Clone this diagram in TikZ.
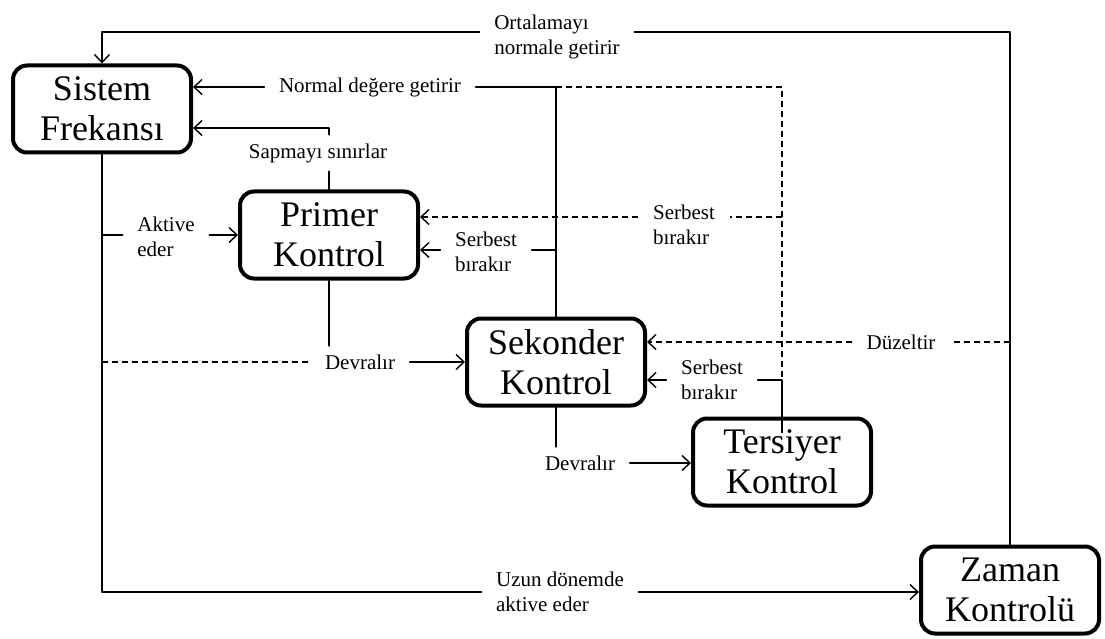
\documentclass[tikz,border=0pt]{standalone}
\usepackage{fontspec}
\setmainfont{Liberation Serif}
\usetikzlibrary{arrows.meta}

\begin{document}
\begin{tikzpicture}[x=1pt, y=-1pt, line cap=round, line join=round, line width=1.4pt,
  >={Straight Barb[length=8pt,width=15pt]},
  ctrlbox/.style={draw, line width=4pt, rounded corners=14pt, minimum width=178pt, minimum height=87pt, align=center, font=\fontsize{36}{40}\selectfont},
  lbl/.style={fill=white, inner xsep=14pt, inner ysep=8pt, align=left, font=\fontsize{21}{25}\selectfont},
  dline/.style={line cap=butt, dash pattern=on 6pt off 4pt}]
\useasboundingbox (0,0) rectangle (1105,639);
\node[ctrlbox] (sis) at (102,109) {Sistem\\Frekansı};
\node[ctrlbox] (pri) at (329,235) {Primer\\Kontrol};
\node[ctrlbox] (sek) at (556,362) {Sekonder\\Kontrol};
\node[ctrlbox] (ter) at (782,462) {Tersiyer\\Kontrol};
\node[ctrlbox] (zam) at (1010,590) {Zaman\\Kontrolü};
\node[lbl] (orta) at (557,37) {Ortalamayı\\normale getirir};
\node[lbl] (norm) at (370,87) {Normal değere getirir};
\node[lbl] (sap) at (318,153) {Sapmayı sınırlar};
\node[lbl] (akt) at (166,237) {Aktive\\eder};
\node[lbl] (dv1) at (360,362) {Devralır};
\node[lbl] (sb3) at (486,252) {Serbest\\bırakır};
\node[lbl] (sb1) at (684,225) {Serbest\\bırakır};
\node[lbl] (sb2) at (712,380) {Serbest\\bırakır};
\node[lbl] (duz) at (901,342) {Düzeltir};
\node[lbl] (dv2) at (580,463) {Devralır};
\node[lbl] (uzun) at (560,592) {Uzun dönemde\\aktive eder};
\coordinate (tl) at (102,32);
\coordinate (jn) at (sek.north |- norm.east);
\coordinate (js) at (ter.north |- sb2.east);
\coordinate (ds) at (782,217);
\coordinate (ss) at (556,250);
\coordinate (sp) at (329,128);
\coordinate (ak) at (102,235);
\draw (zam.north) |- (orta.east |- tl);
\draw[->] (orta.west |- tl) -- (tl) -- (sis.north);
\draw (sek.north) |- (norm.east);
\draw[->] (norm.west) -- (norm.west -| sis.east);
\draw[dline] (jn) -| (js);
\draw ([yshift=-16pt]ter.north) -- (js) -- (sb2.east);
\draw[->] (sb2.west) -- (sb2.west -| sek.east);
\draw[dline] (ds) -- (ds -| sb1.east);
\draw[dline,->] (ds -| sb1.west) -- (ds -| pri.east);
\draw (ss) -- (ss -| sb3.east);
\draw[->] (ss -| sb3.west) -- (ss -| pri.east);
\draw (pri.north) -- (pri.north |- sap.south);
\draw[->] (pri.north |- sap.north) -- (sp) -- (sp -| sis.east);
\draw (sis.south) |- (uzun.west);
\draw[->] (uzun.east) -- (uzun.east -| zam.west);
\draw (ak) -- (ak -| akt.west);
\draw[->] (ak -| akt.east) -- (pri.west);
\draw[dline] (sis.south |- dv1.west) -- (dv1.west);
\draw (pri.south) -- (pri.south |- dv1.north);
\draw[->] (dv1.east) -- (dv1.east -| sek.west);
\draw[dline] (zam.north |- duz.east) -- (duz.east);
\draw[dline,->] (duz.west) -- (duz.west -| sek.east);
\draw (sek.south) -- (sek.south |- dv2.north);
\draw[->] (dv2.east) -- (dv2.east -| ter.west);
\end{tikzpicture}
\end{document}
